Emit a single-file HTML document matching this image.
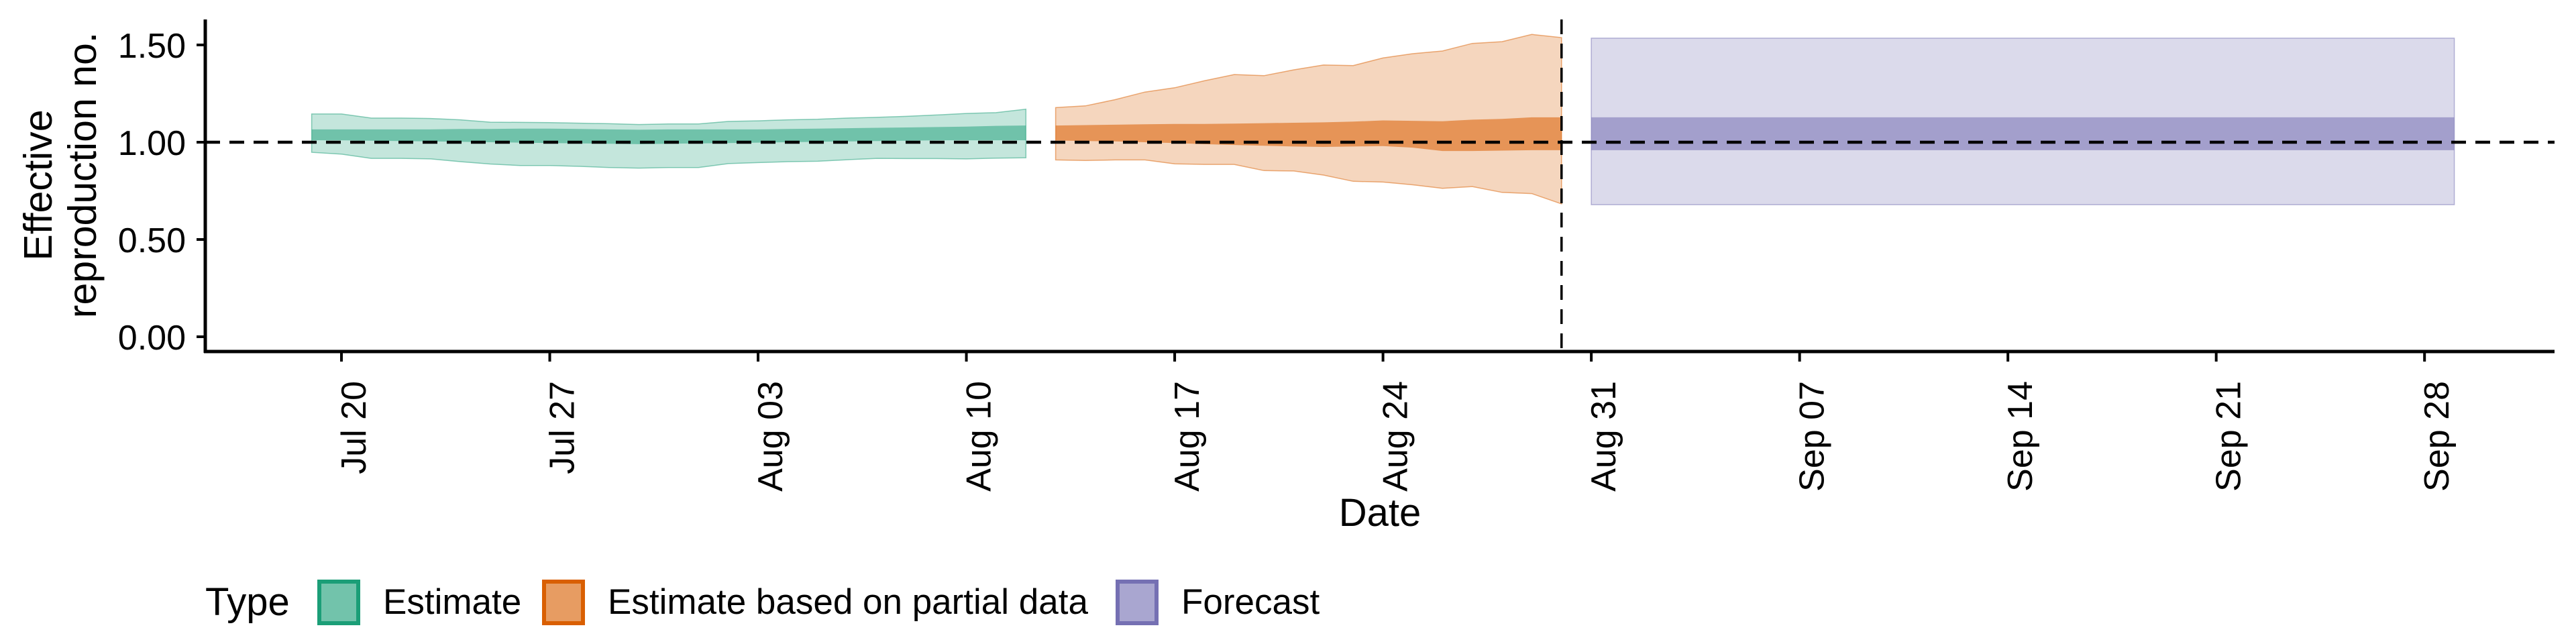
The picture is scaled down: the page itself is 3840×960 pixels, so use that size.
<!DOCTYPE html>
<html><head><meta charset="utf-8"><style>
html,body{margin:0;padding:0;background:#fff;}
svg{display:block;font-family:"Liberation Sans",Arial,sans-serif;}
</style></head><body>
<svg id="chart" width="3840" height="960" viewBox="0 0 3840 960" xmlns="http://www.w3.org/2000/svg">
<g id="plot"></g>
<g id="axes"></g>
<g id="legend"></g>
</svg>
<script>
// ---- data ----
const tickLabels = ["Jul 20","Jul 27","Aug 03","Aug 10","Aug 17","Aug 24","Aug 31","Sep 07","Sep 14","Sep 21","Sep 28"];
const tickDays = [0,7,14,21,28,35,42,49,56,63,70]; // days since Jul 20
const yTicks = [0,0.5,1,1.5];
const yTickLabels = ["0.00","0.50","1.00","1.50"];

const estDays = [-1,0,1,2,3,4,5,6,7,8,9,10,11,12,13,14,15,16,17,18,19,20,21,22,23];
const estUpper90 = [1.145,1.145,1.124,1.124,1.122,1.115,1.103,1.102,1.101,1.098,1.095,1.091,1.094,1.094,1.107,1.110,1.115,1.118,1.124,1.128,1.133,1.140,1.148,1.152,1.170];
const estLower90 = [0.948,0.939,0.917,0.917,0.914,0.900,0.888,0.880,0.880,0.876,0.870,0.867,0.870,0.870,0.890,0.895,0.900,0.902,0.910,0.917,0.916,0.916,0.914,0.918,0.920];
const estUpper50 = [1.066,1.066,1.066,1.066,1.066,1.068,1.068,1.070,1.070,1.068,1.066,1.064,1.066,1.066,1.066,1.066,1.068,1.070,1.072,1.074,1.076,1.078,1.080,1.084,1.086];
const estLower50 = [1.010,1.010,1.008,1.006,1.004,1.002,1.000,0.998,0.996,0.994,0.992,0.990,0.992,0.994,0.996,0.998,1.000,1.002,1.004,1.006,1.008,1.010,1.010,1.010,1.010];

const partDays = [24,25,26,27,28,29,30,31,32,33,34,35,36,37,38,39,40,41];
const partUpper90 = [1.178,1.187,1.219,1.258,1.280,1.316,1.348,1.342,1.372,1.397,1.394,1.433,1.455,1.469,1.508,1.517,1.554,1.538];
const partLower90 = [0.909,0.906,0.909,0.909,0.889,0.886,0.886,0.854,0.852,0.831,0.799,0.795,0.781,0.763,0.772,0.742,0.736,0.683];
const partUpper50 = [1.086,1.088,1.090,1.092,1.094,1.094,1.096,1.098,1.100,1.102,1.106,1.112,1.110,1.108,1.116,1.120,1.128,1.128];
const partLower50 = [1.009,1.006,1.004,1.000,0.996,0.990,0.986,0.982,0.978,0.976,0.978,0.980,0.972,0.955,0.955,0.957,0.959,0.959];

const fcDays = [42,71];
const fcUpper90 = [1.535,1.535];
const fcLower90 = [0.679,0.679];
const fcUpper50 = [1.128,1.128];
const fcLower50 = [0.959,0.959];

const forecastDateDay = 41;
const refLevel = 1;

// ---- scales ----
const X0 = 509, PXDAY = 44.36;
const xs = d => X0 + d * PXDAY;
const ys = v => 502 - v * 290;
const NS = "http://www.w3.org/2000/svg";
function mk(tag, attrs, parent){
  const e = document.createElementNS(NS, tag);
  for (const k in attrs) e.setAttribute(k, attrs[k]);
  parent.appendChild(e);
  return e;
}
const plot = document.getElementById('plot');
const axes = document.getElementById('axes');
const legend = document.getElementById('legend');

function ribbon(days, up, lo, fill, op, stroke, name){
  let d = "";
  days.forEach((dd,i)=>{ d += (i?"L":"M") + xs(dd).toFixed(1) + "," + ys(up[i]).toFixed(1); });
  for (let i = days.length-1; i >= 0; i--) d += "L" + xs(days[i]).toFixed(1) + "," + ys(lo[i]).toFixed(1);
  d += "Z";
  const p = mk('path', {d: d, fill: fill, 'fill-opacity': op, stroke: stroke, 'stroke-opacity': stroke === 'none' ? 0 : 0.5, 'stroke-width': 1.5}, plot);
  
  
}
ribbon(estDays, estUpper90, estLower90, '#1b9e77', 0.26, '#1b9e77', 'estimate-90-ribbon');
ribbon(estDays, estUpper50, estLower50, '#1b9e77', 0.5, 'none', 'estimate-50-ribbon');
ribbon(partDays, partUpper90, partLower90, '#d95f02', 0.26, '#d95f02', 'partial-90-ribbon');
ribbon(partDays, partUpper50, partLower50, '#d95f02', 0.55, 'none', 'partial-50-ribbon');
ribbon(fcDays, fcUpper90, fcLower90, '#7570b3', 0.26, '#7570b3', 'forecast-90-ribbon');
ribbon(fcDays, fcUpper50, fcLower50, '#7570b3', 0.55, 'none', 'forecast-50-ribbon');

// reference lines
const hl = mk('line', {x1: 306, x2: 3808, y1: ys(refLevel), y2: ys(refLevel), stroke: '#000', 'stroke-width': 4.5, 'stroke-dasharray': '22 14'}, plot);


const vl = mk('line', {x1: xs(forecastDateDay), x2: xs(forecastDateDay), y1: 29, y2: 524, stroke: '#000', 'stroke-width': 3.5, 'stroke-dasharray': '22 14'}, plot);



// axes lines
const ya = mk('line', {x1: 306, x2: 306, y1: 29, y2: 526, stroke: '#000', 'stroke-width': 5}, axes);


const xa = mk('line', {x1: 304, x2: 3808, y1: 524, y2: 524, stroke: '#000', 'stroke-width': 5}, axes);



yTicks.forEach((v,i)=>{
  const t = mk('line', {x1: 293, x2: 306, y1: ys(v), y2: ys(v), stroke: '#000', 'stroke-width': 4}, axes);
  
  
  const l = mk('text', {x: 277, y: ys(v) + 2, 'text-anchor': 'end', 'dominant-baseline': 'central', 'font-size': 52, fill: '#000'}, axes);
  l.textContent = yTickLabels[i];
  
  
});
tickDays.forEach((d,i)=>{
  const x = xs(d);
  const t = mk('line', {x1: x, x2: x, y1: 524, y2: 539, stroke: '#000', 'stroke-width': 4}, axes);
  
  
  const l = mk('text', {transform: 'translate(' + (x + 36) + ',568) rotate(-90)', 'text-anchor': 'end', 'font-size': 52, fill: '#000'}, axes);
  l.textContent = tickLabels[i];
  
  
});

const xt = mk('text', {x: 2057, y: 784, 'text-anchor': 'middle', 'font-size': 58, fill: '#000'}, axes);
xt.textContent = 'Date';


const yt1 = mk('text', {transform: 'translate(77,276) rotate(-90)', 'text-anchor': 'middle', 'font-size': 59, fill: '#000'}, axes);
yt1.textContent = 'Effective';


const yt2 = mk('text', {transform: 'translate(143,261) rotate(-90)', 'text-anchor': 'middle', 'font-size': 59, fill: '#000'}, axes);
yt2.textContent = 'reproduction no.';



// legend
const lt = mk('text', {x: 306, y: 917, 'font-size': 58, fill: '#000'}, legend);
lt.textContent = 'Type';


const legItems = [
  {x: 473, col: '#1b9e77', label: 'Estimate', name: 'legend-entry-estimate'},
  {x: 808, col: '#d95f02', label: 'Estimate based on partial data', name: 'legend-entry-partial'},
  {x: 1663, col: '#7570b3', label: 'Forecast', name: 'legend-entry-forecast'}
];
legItems.forEach(it=>{
  const g = mk('g', {}, legend);
  
  
  mk('rect', {x: it.x, y: 864, width: 64, height: 68, fill: '#fff'}, g);
  mk('rect', {x: it.x + 3, y: 867, width: 58, height: 62, fill: it.col, 'fill-opacity': 0.62, stroke: it.col, 'stroke-width': 6}, g);
  const tx = mk('text', {x: it.x + 98, y: 915, 'font-size': 53, fill: '#000'}, g);
  tx.textContent = it.label;
});
</script>
</body></html>
